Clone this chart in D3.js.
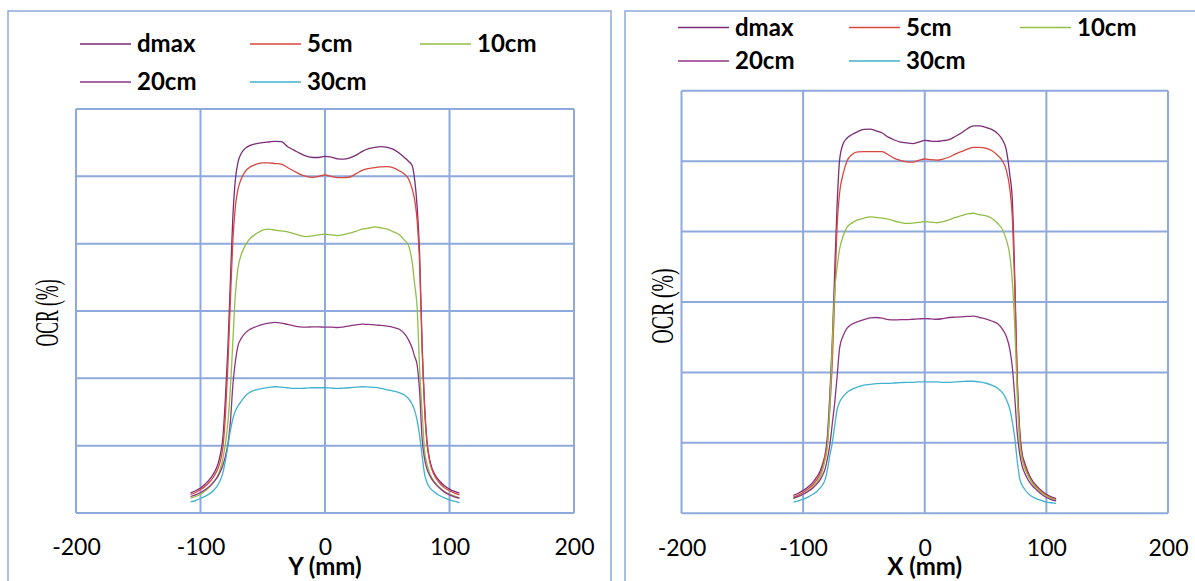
<!DOCTYPE html>
<html>
<head>
<meta charset="utf-8">
<script src="https://cdn.jsdelivr.net/npm/d3@7"></script>
<style>
  html, body { margin: 0; padding: 0; background: #ffffff; }
  svg { display: block; }
</style>
</head>
<body>
<svg id="chart" width="1195" height="581"></svg>
<script>
// ---------------- DATA ----------------
const seriesNames = ["dmax", "5cm", "10cm", "20cm", "30cm"];
const seriesColors = ["#7B2D77", "#D9473F", "#93BE48", "#8E3583", "#40B2CF"];
const tickLabels = [-200, -100, 0, 100, 200];
const gridValues = [0, 20, 40, 60, 80, 100, 120];

// off-axis positions (mm), shared by all profiles
const positionsMm = [-108,-104,-100,-96,-92,-89,-86,-84,-82,-80,
  -78,-76,-74,-72,-70,-67,-64,-60,-55,-50,
  -45,-40,-35,-30,-25,-20,-15,-10,-5,0,
  5,10,15,20,25,30,35,40,45,50,
  55,60,64,67,70,72,74,76,78,80,
  82,84,86,89,92,96,100,104,108];

// Y profile (left chart)
const yDmax = [6.0,6.6,7.4,8.7,10.3,12.0,14.5,17.5,22.5,34,
  49,69,88,99,104,107,108.3,109.2,109.7,110.0,
  110.2,110.4,110.3,108.8,107.8,106.8,106.0,105.6,105.6,105.9,
  105.7,105.2,105.1,105.5,106.3,107.4,108.2,108.6,108.8,108.6,
  108.0,106.8,105.5,104.5,103.2,99,91,77,50,32,
  21,16,13.2,11.0,9.5,8.1,7.1,6.4,5.9];
const y5cm = [5.5,6.1,6.9,8.0,9.5,11.0,13.2,15.5,19.5,29,
  44,63,81,91,96,99.5,101.5,102.8,103.6,104.0,
  104.0,103.8,103.6,102.6,101.6,100.6,100.0,99.7,100.0,100.4,
  100.0,99.6,99.6,99.8,100.8,101.8,102.3,102.6,102.8,102.9,
  102.5,101.6,100.6,99.3,96.3,93,87,74,49,31,
  20.5,15.5,12.8,10.4,8.9,7.5,6.6,5.9,5.4];
const y10cm = [4.4,4.9,5.6,6.6,8.0,9.4,11.2,13.2,16.2,20.5,
  27,37,51,65,72.5,77,79.5,81.6,83.0,84.0,
  84.3,84.0,83.8,83.5,83.0,82.4,82.1,82.3,82.6,82.8,
  82.6,82.4,82.7,83.1,83.7,84.3,84.6,85.0,84.7,84.3,
  83.5,82.6,81.0,79.6,74.5,68,61,43,30,18.5,
  14.5,12.0,10.3,8.8,7.6,6.4,5.6,5.0,4.5];
const y20cm = [4.9,5.4,6.1,7.0,8.2,9.4,10.9,12.3,14.2,16.8,
  20.5,27,38,45,49.5,52,53.5,54.6,55.4,56.0,
  56.4,56.6,56.4,56.0,55.6,55.3,55.2,55.3,55.3,55.2,
  55.2,55.1,55.3,55.6,55.9,56.1,56.0,55.9,55.7,55.5,
  55.1,54.5,53.2,51.5,49,46.5,44,36,22,16,
  13,11.2,9.9,8.5,7.4,6.2,5.4,4.8,4.4];
const y30cm = [3.3,3.7,4.3,5.0,5.9,6.9,8.4,9.8,12.0,15.5,
  19.8,24.5,28,30.3,31.7,33.3,34.8,35.9,36.6,37.0,
  37.3,37.5,37.4,37.2,37.0,37.0,37.1,37.2,37.2,37.2,
  37.1,37.0,37.1,37.2,37.4,37.5,37.4,37.3,37.0,36.6,
  36.2,35.7,35.0,34.0,32.3,30.5,27.5,23,17,11.5,
  9.0,7.6,6.8,5.9,5.2,4.5,3.9,3.5,3.1];

// X profile (right chart)
const xDmax = [5.1,5.7,6.5,7.5,8.8,10.2,12.0,14.0,16.5,22,
  34,49,69,88,100.4,105,106.5,107.5,108.4,109.0,
  109.1,108.6,108.0,106.8,106.0,105.4,105.2,105.0,105.4,105.9,
  105.7,105.6,105.8,106.1,107.0,108.0,109.2,110.0,110.0,109.6,
  109.0,107.8,106.0,103.3,96,89,67,39,24,17,
  14.5,12.5,10.8,9.0,7.8,6.4,5.4,4.7,4.2];
const x5cm = [4.6,5.2,5.9,6.9,8.1,9.4,11.2,13.2,16.2,20,
  30,43,62,82,91,96.5,100,101.8,102.6,102.7,
  102.7,102.7,102.7,101.8,100.8,100.2,99.8,99.7,100.2,100.6,
  100.4,100.3,100.6,101.1,102.0,102.7,103.4,103.9,103.9,103.7,
  103.0,101.6,100.0,97.5,92,84,64,38,23,16.5,
  13.8,11.9,10.3,8.6,7.4,6.1,5.1,4.4,3.9];
const x10cm = [4.2,4.7,5.4,6.3,7.5,8.7,10.4,12.3,15.0,19,
  31,48,63,70,75,78.8,81.2,82.4,83.3,83.8,
  84.2,84.0,83.8,83.5,83.0,82.6,82.3,82.4,82.6,82.8,
  82.7,82.5,82.8,83.3,84.0,84.5,85.0,85.2,84.8,84.5,
  83.8,82.3,80.5,77.8,73,66,53,34,20.5,15.5,
  13.0,11.3,9.9,8.3,7.1,5.9,4.9,4.2,3.7];
const x20cm = [4.3,4.8,5.4,6.2,7.2,8.2,9.5,10.8,12.5,15.5,
  19.5,25.5,31.5,39,47,50.5,52.5,53.7,54.4,55.0,
  55.5,55.6,55.4,55.0,54.9,55.0,55.0,55.1,55.2,55.3,
  55.2,55.1,55.3,55.6,55.7,55.8,55.9,56.0,55.6,55.2,
  54.6,53.8,52.2,50.3,46.5,41.5,33,23,17,13.5,
  11.6,10.1,8.9,7.6,6.6,5.4,4.5,3.9,3.5];
const x30cm = [3.2,3.5,4.0,4.6,5.4,6.1,7.2,8.1,9.5,12.5,
  16.5,20,25,29.5,31.6,33.2,34.3,35.2,35.9,36.4,
  36.6,36.8,36.9,36.9,37.0,37.1,37.2,37.2,37.3,37.3,
  37.3,37.3,37.2,37.2,37.3,37.4,37.5,37.5,37.3,37.0,
  36.4,35.5,34.2,32.4,29.5,26,21.5,15,10,8.0,
  6.9,6.0,5.3,4.6,4.1,3.6,3.2,3.0,2.8];

// ---------------- DRAWING ----------------
const GRID = "#8EA9DB";
const svg = d3.select("#chart");

const panels = [
  {
    frame: {x: 8, y: 11, w: 603, h: 600},
    plot: {l: 76, r: 574, t: 109, b: 513},
    series: [yDmax, y5cm, y10cm, y20cm, y30cm],
    axisTitle: "Y (mm)",
    legend: {lineX: [80, 250, 420], rowY: [44, 82]},
    ocr: {x: 47.5, y: 313, size: 33, len: 67}
  },
  {
    frame: {x: 625, y: 11, w: 600, h: 600},
    plot: {l: 681.5, r: 1168, t: 90.7, b: 513.3},
    series: [xDmax, x5cm, x10cm, x20cm, x30cm],
    axisTitle: "X (mm)",
    legend: {lineX: [678, 849, 1020], rowY: [27.5, 61]},
    ocr: {x: 662.5, y: 306, size: 31, len: 75}
  }
];

panels.forEach(p => {
  const g = svg.append("g");
  // outer frame
  g.append("rect")
    .attr("x", p.frame.x).attr("y", p.frame.y)
    .attr("width", p.frame.w).attr("height", p.frame.h)
    .attr("fill", "none").attr("stroke", GRID).attr("stroke-width", 1.5);

  const x = d3.scaleLinear().domain([-200, 200]).range([p.plot.l, p.plot.r]);
  const y = d3.scaleLinear().domain([0, 120]).range([p.plot.b, p.plot.t]);

  // horizontal gridlines
  g.selectAll("line.h").data(gridValues).join("line")
    .attr("x1", p.plot.l).attr("x2", p.plot.r)
    .attr("y1", d => y(d)).attr("y2", d => y(d))
    .attr("stroke", GRID).attr("stroke-width", 2);
  // vertical gridlines
  g.selectAll("line.v").data(tickLabels).join("line")
    .attr("x1", d => x(d)).attr("x2", d => x(d))
    .attr("y1", p.plot.t).attr("y2", p.plot.b)
    .attr("stroke", GRID).attr("stroke-width", 2);

  // x axis labels
  const axis = d3.axisBottom(x).tickValues(tickLabels).tickSize(0).tickPadding(26)
    .tickFormat(d3.format("d"));
  const ag = g.append("g").attr("transform", `translate(0,${p.plot.b})`).call(axis);
  ag.select(".domain").remove();
  ag.selectAll("text")
    .attr("fill", "#000").style("font-family", "Lato, 'Open Sans', sans-serif")
    .style("font-size", "23px").text(d => d < 0 ? "-" + Math.abs(d) : d);

  // axis title
  g.append("text")
    .attr("x", x(0)).attr("y", 575)
    .attr("text-anchor", "middle")
    .style("font-family", "Lato, 'Open Sans', sans-serif")
    .style("font-weight", "bold").style("font-size", "24px")
    .text(p.axisTitle);

  // OCR label (condensed serif)
  g.append("text")
    .attr("transform", `translate(${p.ocr.x},${p.ocr.y}) rotate(-90)`)
    .attr("text-anchor", "middle").attr("dy", "0.33em")
    .attr("textLength", p.ocr.len).attr("lengthAdjust", "spacingAndGlyphs")
    .attr("font-family", "Liberation Serif, DejaVu Serif, serif")
    .attr("font-size", p.ocr.size)
    .attr("fill", "#000")
    .text("OCR (%)");

  // curves
  const line = d3.line()
    .x((d, i) => x(positionsMm[i]))
    .y(d => y(d))
    .curve(d3.curveMonotoneX);
  g.selectAll("path.curve").data(p.series).join("path")
    .attr("d", d => line(d))
    .attr("fill", "none")
    .attr("stroke", (d, i) => seriesColors[i])
    .attr("stroke-width", 1.3);

  // legend
  seriesNames.forEach((name, i) => {
    const col = i % 3, row = Math.floor(i / 3);
    const lx = p.legend.lineX[col], ly = p.legend.rowY[row];
    g.append("line")
      .attr("x1", lx).attr("x2", lx + 51)
      .attr("y1", ly).attr("y2", ly)
      .attr("stroke", seriesColors[i]).attr("stroke-width", 1.5);
    g.append("text")
      .attr("x", lx + 57).attr("y", ly + 8)
      .style("font-family", "Lato, 'Open Sans', sans-serif")
      .style("font-weight", "bold").style("font-size", "24px")
      .text(name);
  });
});
</script>
</body>
</html>
